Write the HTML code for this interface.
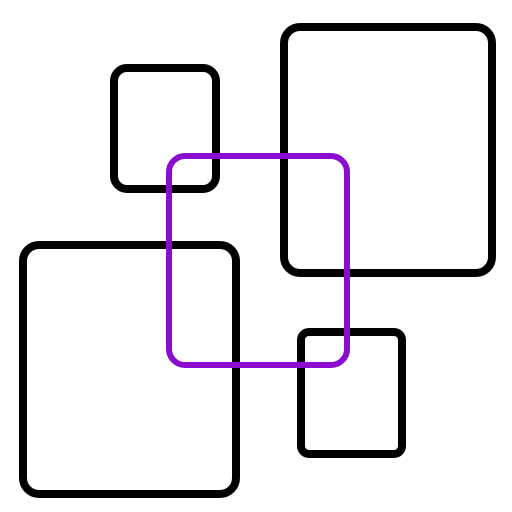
<!DOCTYPE html>
<html><head><style>html,body{margin:0;padding:0;background:#fff;width:512px;height:512px;overflow:hidden}</style></head>
<body>
<svg width="512" height="512" viewBox="0 0 512 512" fill="none" stroke-width="8">
<rect x="114" y="68" width="102" height="121" rx="13" stroke="#000"/>
<rect x="284" y="27" width="208" height="246" rx="16" stroke="#000"/>
<rect x="23" y="245" width="213" height="249" rx="16" stroke="#000"/>
<rect x="301" y="332" width="101" height="122" rx="8" stroke="#000"/>
<rect x="169" y="156" width="178" height="209" rx="16" stroke="#8a0ccf" stroke-width="6"/>
</svg>
</body></html>
